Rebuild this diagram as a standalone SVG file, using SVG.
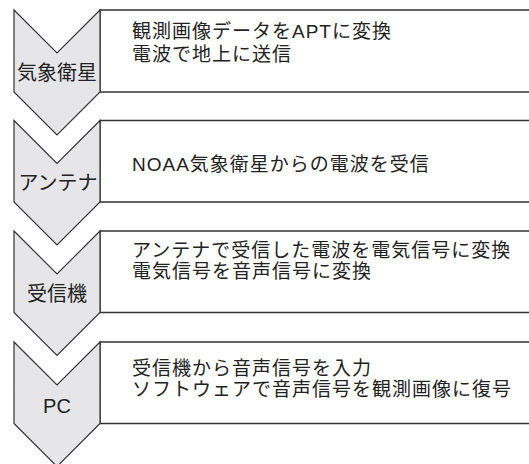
<svg xmlns="http://www.w3.org/2000/svg" width="529" height="464" viewBox="0 0 529 464">
<style>
.chev{fill:#e6e6e8;stroke:#333;stroke-width:1.2;stroke-linejoin:miter}
.box{fill:#fff;stroke:#333;stroke-width:1.4}
.lbl{font-family:"Liberation Sans","Noto Sans CJK JP",sans-serif;font-size:20px;fill:#222;text-anchor:middle}
.txt{font-family:"Liberation Sans","Noto Sans CJK JP",sans-serif;font-size:19px;letter-spacing:1px;fill:#222}
</style>
<rect width="529" height="464" fill="#fff"/>
<g id="step1">
<path class="box" d="M529,10 H100 V92 H529"/>
<path class="chev" d="M14,10 L57,53 L100,10 V92 L57,135 L14,92 Z"/>
<text class="lbl" x="57" y="80">気象衛星</text>
<text class="txt" x="132" y="38">観測画像データをAPTに変換</text>
<text class="txt" x="132" y="61">電波で地上に送信</text>
</g>
<g id="step2">
<path class="box" d="M529,120.5 H100 V202 H529"/>
<path class="chev" d="M14,120.5 L57,163.5 L100,120.5 V202 L57,245 L14,202 Z"/>
<text class="lbl" x="58" y="190">アンテナ</text>
<text class="txt" x="132" y="171">NOAA気象衛星からの電波を受信</text>
</g>
<g id="step3">
<path class="box" d="M529,231 H100 V312.5 H529"/>
<path class="chev" d="M14,231 L57,274 L100,231 V312.5 L57,355.5 L14,312.5 Z"/>
<text class="lbl" x="57" y="301">受信機</text>
<text class="txt" x="132" y="257">アンテナで受信した電波を電気信号に変換</text>
<text class="txt" x="132" y="278">電気信号を音声信号に変換</text>
</g>
<g id="step4">
<path class="box" d="M529,342 H100 V423.5 H529"/>
<path class="chev" d="M14,342 L57,385 L100,342 V423.5 L57,466.5 L14,423.5 Z"/>
<text class="lbl" x="57" y="413">PC</text>
<text class="txt" x="132" y="375">受信機から音声信号を入力</text>
<text class="txt" x="132" y="396">ソフトウェアで音声信号を観測画像に復号</text>
</g>
</svg>
